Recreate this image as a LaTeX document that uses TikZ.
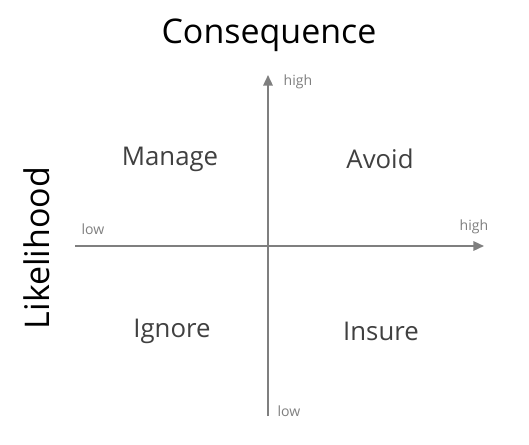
\documentclass[tikz,border=0pt]{standalone}
\usepackage{fontspec}
\setmainfont{Open Sans}
\usepackage{xcolor}
\usepackage{tikz}
\usetikzlibrary{arrows.meta, positioning}

\definecolor{axisgray}{HTML}{7F7F7F}
\definecolor{textgray}{HTML}{404040}

\begin{document}
\begin{tikzpicture}[
  x=0.03cm, y=-0.03cm,
  axis/.style={draw=axisgray, line width=1.6pt, -{Triangle[length=9pt, width=8pt]}},
  tick/.style={text=axisgray, font=\fontsize{12}{14}\selectfont, inner sep=0pt},
  quadrant/.style={text=textgray, font=\fontsize{22}{26}\selectfont, inner sep=0pt},
  heading/.style={text=black, font=\fontsize{29}{34}\selectfont, inner sep=0pt}
]
\useasboundingbox (0,0) rectangle (529,444);
% axes
\coordinate (xlow) at (75,246);
\coordinate (xhigh) at (484,246);
\coordinate (ylow) at (268,416);
\coordinate (yhigh) at (268,75);
\draw[axis] (xlow) -- (xhigh);
\draw[axis] (ylow) -- (yhigh);
% axis ends
\node[tick] (lowx) at (93,229) {low};
\node[tick] (highx) at (474,227) {high};
\node[tick] (highy) at (298,82) {high};
\node[tick] (lowy) at (289,411) {low};
% titles
\node[heading] (consequence) at (269,35) {Consequence};
\node[heading, rotate=90] (likelihood) at (37,248) {Likelihood};
% quadrants
\node[quadrant] (manage) at (170,159) {Manage};
\node[quadrant] (avoid) at (380,159) {Avoid};
\node[quadrant] (ignore) at (172,331) {Ignore};
\node[quadrant] (insure) at (381,331) {Insure};
\end{tikzpicture}
\end{document}
